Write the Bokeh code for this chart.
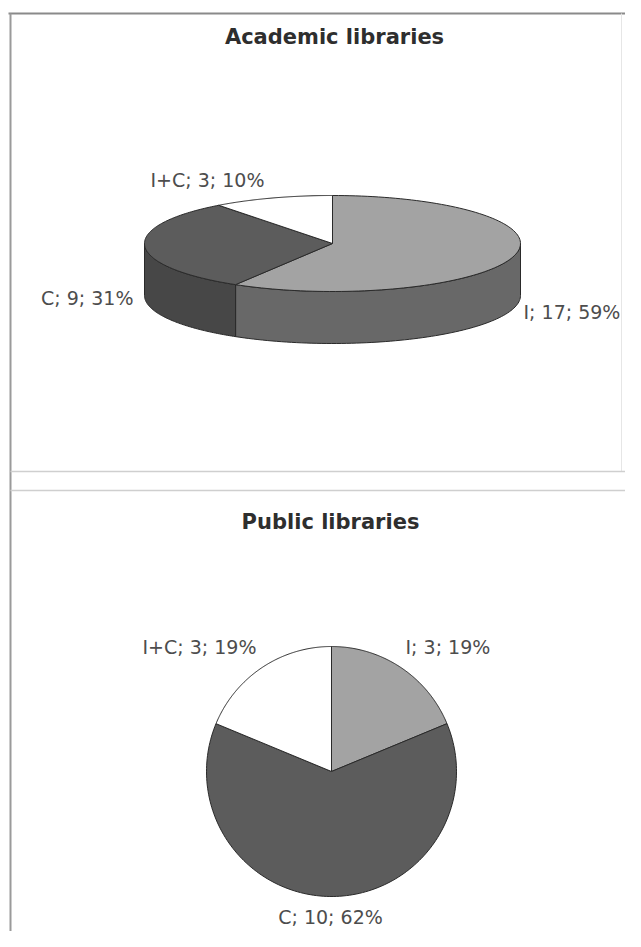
import numpy as np
from bokeh.plotting import figure
from bokeh.models import Range1d
from bokeh.core.properties import value
from bokeh.embed import file_html
from bokeh.resources import INLINE

# ---- data ----
categories = ["I", "C", "I+C"]
academic_counts = [17, 9, 3]
public_counts = [3, 10, 3]
academic_title = "Academic libraries"
public_title = "Public libraries"

# ---- styles ----
top_colors = ["#a3a3a3", "#5c5c5c", "#ffffff"]
side_colors = ["#686868", "#474747", "#d0d0d0"]
edge = "#2a2a2a"
label_color = "#4d4d4d"
title_color = "#2e2e2e"
FONT = "DejaVu Sans"

W, H = 625, 931
p = figure(width=W, height=H, x_range=Range1d(0, W), y_range=Range1d(H, 0),
           output_backend="svg", toolbar_location=None,
           x_axis_location=None, y_axis_location=None, min_border=0)
p.grid.visible = False
p.outline_line_color = None
p.background_fill_color = "#ffffff"
p.border_fill_color = "#ffffff"

# ---- panel frames ----
p.segment(x0=[8], y0=[13], x1=[W], y1=[13], line_color="#8a8a8a", line_width=2)
p.segment(x0=[10], y0=[13], x1=[10], y1=[H], line_color="#9a9a9a", line_width=2)
p.segment(x0=[621], y0=[13], x1=[621], y1=[471], line_color="#e6e6e6", line_width=1)
p.segment(x0=[10, 10], y0=[471, 490], x1=[W, W], y1=[471, 490],
          line_color="#cfcfcf", line_width=1.5)


def slice_angles(counts):
    c = np.asarray(counts, dtype=float)
    frac = c / c.sum()
    ends = np.cumsum(frac) * 2 * np.pi
    starts = ends - frac * 2 * np.pi
    return starts, ends


def labels_for(counts):
    tot = sum(counts)
    return [f"{c}; {n}; {round(100 * n / tot)}%" for c, n in zip(categories, counts)]


# ---- academic: 3D pie ----
cx3, cy3, rx3, ry3, depth = 332, 243, 188, 48, 52
s3, e3 = slice_angles(academic_counts)
sx, sy, sc = [], [], []
for s, e, col in zip(s3, e3, side_colors):
    lo, hi = max(s, np.pi / 2), min(e, 3 * np.pi / 2)
    if hi <= lo:
        continue
    t = np.linspace(lo, hi, 80)
    x = cx3 + rx3 * np.sin(t)
    y = cy3 - ry3 * np.cos(t)
    sx.append(list(x) + list(x[::-1]))
    sy.append(list(y) + list((y + depth)[::-1]))
    sc.append(col)
p.patches(sx, sy, fill_color=sc, line_color=edge, line_width=1)

tx, ty = [], []
for s, e in zip(s3, e3):
    t = np.linspace(s, e, 120)
    tx.append([cx3] + list(cx3 + rx3 * np.sin(t)))
    ty.append([cy3] + list(cy3 - ry3 * np.cos(t)))
p.patches(tx, ty, fill_color=top_colors, line_color=edge, line_width=1)

# ---- public: flat pie ----
cx2, cy2, r2 = 331, 771, 125
s2, e2 = slice_angles(public_counts)
fx, fy = [], []
for s, e in zip(s2, e2):
    t = np.linspace(s, e, 150)
    fx.append([cx2] + list(cx2 + r2 * np.sin(t)))
    fy.append([cy2] + list(cy2 - r2 * np.cos(t)))
p.patches(fx, fy, fill_color=top_colors, line_color=edge, line_width=1)

# ---- titles ----
p.text(x=[334, 330], y=[36, 521], text=[academic_title, public_title],
       text_font=value(FONT), text_font_style="bold", text_font_size="21px",
       text_color=title_color, text_align="center", text_baseline="middle")

# ---- data labels ----
ac_lab = labels_for(academic_counts)
pu_lab = labels_for(public_counts)
ac_pos = {"I": (523, 311, "left"), "C": (133, 297, "right"), "I+C": (207, 179, "center")}
pu_pos = {"I": (405, 646, "left"), "C": (330, 916, "center"), "I+C": (256, 646, "right")}
for labs, pos in ((ac_lab, ac_pos), (pu_lab, pu_pos)):
    for cat, lab in zip(categories, labs):
        x, y, al = pos[cat]
        p.text(x=[x], y=[y], text=[lab], text_font=value(FONT), text_font_size="19px",
               text_color=label_color, text_align=al, text_baseline="middle")

open("out.html", "w").write(file_html(p, INLINE))
